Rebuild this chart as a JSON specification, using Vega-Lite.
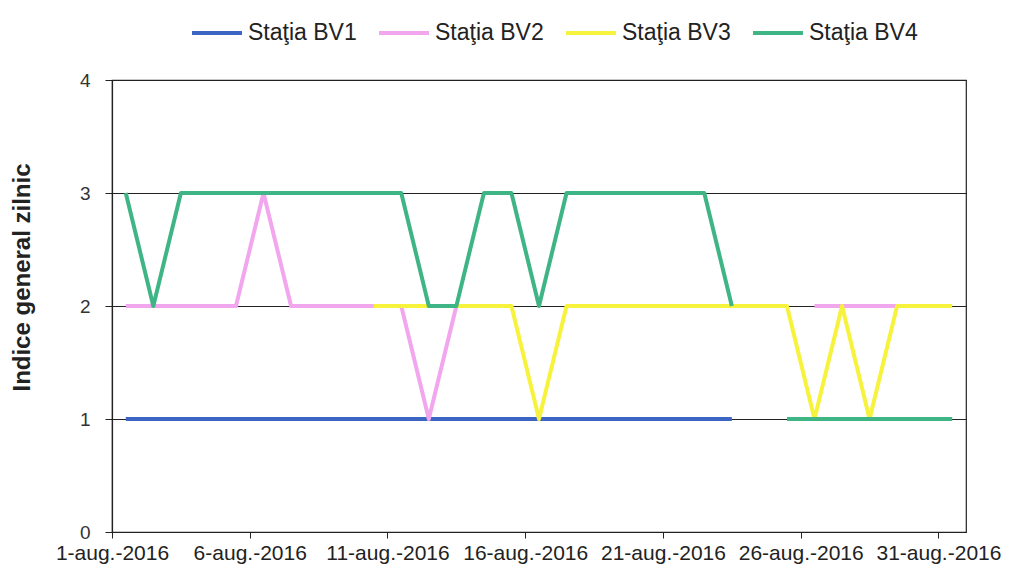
{
  "$schema": "https://vega.github.io/schema/vega-lite/v6.json",
  "width": 854,
  "height": 452,
  "autosize": {"type": "none"},
  "padding": {"left": 112, "top": 80, "right": 50, "bottom": 36},
  "background": "white",
  "config": {
    "font": "Liberation Sans",
    "view": {"stroke": "#222", "strokeWidth": 1.2}
  },
  "data": {
    "values": [
      {"d": "2016-08-01T12:00", "s": "Staţia BV1", "v": 1},
      {"d": "2016-08-05T12:00", "s": "Staţia BV1", "v": 1},
      {"d": "2016-08-10T12:00", "s": "Staţia BV1", "v": 1},
      {"d": "2016-08-15T12:00", "s": "Staţia BV1", "v": 1},
      {"d": "2016-08-20T12:00", "s": "Staţia BV1", "v": 1},
      {"d": "2016-08-23T12:00", "s": "Staţia BV1", "v": 1},
      {"d": "2016-08-24T12:00", "s": "Staţia BV1", "v": null},

      {"d": "2016-08-01T12:00", "s": "Staţia BV2", "v": 2},
      {"d": "2016-08-02T12:00", "s": "Staţia BV2", "v": 2},
      {"d": "2016-08-03T12:00", "s": "Staţia BV2", "v": 2},
      {"d": "2016-08-04T12:00", "s": "Staţia BV2", "v": 2},
      {"d": "2016-08-05T12:00", "s": "Staţia BV2", "v": 2},
      {"d": "2016-08-06T12:00", "s": "Staţia BV2", "v": 3},
      {"d": "2016-08-07T12:00", "s": "Staţia BV2", "v": 2},
      {"d": "2016-08-08T12:00", "s": "Staţia BV2", "v": 2},
      {"d": "2016-08-09T12:00", "s": "Staţia BV2", "v": 2},
      {"d": "2016-08-10T12:00", "s": "Staţia BV2", "v": 2},
      {"d": "2016-08-11T12:00", "s": "Staţia BV2", "v": 2},
      {"d": "2016-08-12T12:00", "s": "Staţia BV2", "v": 1},
      {"d": "2016-08-13T12:00", "s": "Staţia BV2", "v": 2},
      {"d": "2016-08-14T12:00", "s": "Staţia BV2", "v": 2},
      {"d": "2016-08-15T12:00", "s": "Staţia BV2", "v": 2},
      {"d": "2016-08-16T12:00", "s": "Staţia BV2", "v": null},
      {"d": "2016-08-26T12:00", "s": "Staţia BV2", "v": 2},
      {"d": "2016-08-27T12:00", "s": "Staţia BV2", "v": 2},
      {"d": "2016-08-28T12:00", "s": "Staţia BV2", "v": 2},
      {"d": "2016-08-29T12:00", "s": "Staţia BV2", "v": 2},

      {"d": "2016-08-10T12:00", "s": "Staţia BV3", "v": 2},
      {"d": "2016-08-11T12:00", "s": "Staţia BV3", "v": 2},
      {"d": "2016-08-12T12:00", "s": "Staţia BV3", "v": 2},
      {"d": "2016-08-13T12:00", "s": "Staţia BV3", "v": 2},
      {"d": "2016-08-14T12:00", "s": "Staţia BV3", "v": 2},
      {"d": "2016-08-15T12:00", "s": "Staţia BV3", "v": 2},
      {"d": "2016-08-16T12:00", "s": "Staţia BV3", "v": 1},
      {"d": "2016-08-17T12:00", "s": "Staţia BV3", "v": 2},
      {"d": "2016-08-18T12:00", "s": "Staţia BV3", "v": 2},
      {"d": "2016-08-19T12:00", "s": "Staţia BV3", "v": 2},
      {"d": "2016-08-20T12:00", "s": "Staţia BV3", "v": 2},
      {"d": "2016-08-21T12:00", "s": "Staţia BV3", "v": 2},
      {"d": "2016-08-22T12:00", "s": "Staţia BV3", "v": 2},
      {"d": "2016-08-23T12:00", "s": "Staţia BV3", "v": 2},
      {"d": "2016-08-24T12:00", "s": "Staţia BV3", "v": 2},
      {"d": "2016-08-25T12:00", "s": "Staţia BV3", "v": 2},
      {"d": "2016-08-26T12:00", "s": "Staţia BV3", "v": 1},
      {"d": "2016-08-27T12:00", "s": "Staţia BV3", "v": 2},
      {"d": "2016-08-28T12:00", "s": "Staţia BV3", "v": 1},
      {"d": "2016-08-29T12:00", "s": "Staţia BV3", "v": 2},
      {"d": "2016-08-30T12:00", "s": "Staţia BV3", "v": 2},
      {"d": "2016-08-31T12:00", "s": "Staţia BV3", "v": 2},

      {"d": "2016-08-01T12:00", "s": "Staţia BV4", "v": 3},
      {"d": "2016-08-02T12:00", "s": "Staţia BV4", "v": 2},
      {"d": "2016-08-03T12:00", "s": "Staţia BV4", "v": 3},
      {"d": "2016-08-04T12:00", "s": "Staţia BV4", "v": 3},
      {"d": "2016-08-05T12:00", "s": "Staţia BV4", "v": 3},
      {"d": "2016-08-06T12:00", "s": "Staţia BV4", "v": 3},
      {"d": "2016-08-07T12:00", "s": "Staţia BV4", "v": 3},
      {"d": "2016-08-08T12:00", "s": "Staţia BV4", "v": 3},
      {"d": "2016-08-09T12:00", "s": "Staţia BV4", "v": 3},
      {"d": "2016-08-10T12:00", "s": "Staţia BV4", "v": 3},
      {"d": "2016-08-11T12:00", "s": "Staţia BV4", "v": 3},
      {"d": "2016-08-12T12:00", "s": "Staţia BV4", "v": 2},
      {"d": "2016-08-13T12:00", "s": "Staţia BV4", "v": 2},
      {"d": "2016-08-14T12:00", "s": "Staţia BV4", "v": 3},
      {"d": "2016-08-15T12:00", "s": "Staţia BV4", "v": 3},
      {"d": "2016-08-16T12:00", "s": "Staţia BV4", "v": 2},
      {"d": "2016-08-17T12:00", "s": "Staţia BV4", "v": 3},
      {"d": "2016-08-18T12:00", "s": "Staţia BV4", "v": 3},
      {"d": "2016-08-19T12:00", "s": "Staţia BV4", "v": 3},
      {"d": "2016-08-20T12:00", "s": "Staţia BV4", "v": 3},
      {"d": "2016-08-21T12:00", "s": "Staţia BV4", "v": 3},
      {"d": "2016-08-22T12:00", "s": "Staţia BV4", "v": 3},
      {"d": "2016-08-23T12:00", "s": "Staţia BV4", "v": 2},
      {"d": "2016-08-24T12:00", "s": "Staţia BV4", "v": null},
      {"d": "2016-08-25T12:00", "s": "Staţia BV4", "v": 1},
      {"d": "2016-08-26T12:00", "s": "Staţia BV4", "v": 1},
      {"d": "2016-08-27T12:00", "s": "Staţia BV4", "v": 1},
      {"d": "2016-08-28T12:00", "s": "Staţia BV4", "v": 1},
      {"d": "2016-08-29T12:00", "s": "Staţia BV4", "v": 1},
      {"d": "2016-08-30T12:00", "s": "Staţia BV4", "v": 1},
      {"d": "2016-08-31T12:00", "s": "Staţia BV4", "v": 1}
    ]
  },
  "mark": {"type": "line", "strokeWidth": 4, "invalid": "break-paths-show-domains", "strokeJoin": "round"},
  "encoding": {
    "x": {
      "field": "d",
      "type": "temporal",
      "scale": {"domain": [{"year": 2016, "month": 8, "date": 1}, {"year": 2016, "month": 9, "date": 1}]},
      "axis": {
        "title": null,
        "values": [
          {"year": 2016, "month": 8, "date": 1},
          {"year": 2016, "month": 8, "date": 6},
          {"year": 2016, "month": 8, "date": 11},
          {"year": 2016, "month": 8, "date": 16},
          {"year": 2016, "month": 8, "date": 21},
          {"year": 2016, "month": 8, "date": 26},
          {"year": 2016, "month": 8, "date": 31}
        ],
        "format": "%-d-aug.-%Y",
        "grid": false,
        "domainColor": "#222",
        "domainWidth": 1.2,
        "tickColor": "#222",
        "tickSize": 6,
        "labelFontSize": 21,
        "labelColor": "#222",
        "labelPadding": 4,
        "labelOverlap": false,
        "labelBound": false,
        "labelFlush": false
      }
    },
    "y": {
      "field": "v",
      "type": "quantitative",
      "scale": {"domain": [0, 4]},
      "axis": {
        "values": [0, 1, 2, 3, 4],
        "title": "Indice general zilnic",
        "titleFontSize": 24,
        "titleFontWeight": "bold",
        "titleColor": "#222",
        "titleX": -90,
        "titleY": 197,
        "titleAngle": -90,
        "titleAlign": "center",
        "titleBaseline": "middle",
        "grid": true,
        "gridColor": "#222",
        "gridWidth": 1,
        "gridOpacity": 1,
        "domainColor": "#222",
        "domainWidth": 1.2,
        "tickColor": "#222",
        "tickSize": 7,
        "labelFontSize": 19,
        "labelColor": "#333",
        "labelPadding": 15
      }
    },
    "color": {
      "field": "s",
      "type": "nominal",
      "scale": {
        "domain": ["Staţia BV1", "Staţia BV2", "Staţia BV3", "Staţia BV4"],
        "range": ["#3d66c4", "#f2a6ee", "#f7f23c", "#3fb585"]
      },
      "legend": {
        "title": null,
        "orient": "none",
        "legendX": 78,
        "legendY": -74,
        "direction": "horizontal",
        "columns": 4,
        "padding": 0,
        "symbolType": "stroke",
        "symbolSize": 2500,
        "symbolStrokeWidth": 4,
        "labelFontSize": 23,
        "labelColor": "#222",
        "labelOffset": 4,
        "columnPadding": 14,
        "labelLimit": 300
      }
    }
  }
}
